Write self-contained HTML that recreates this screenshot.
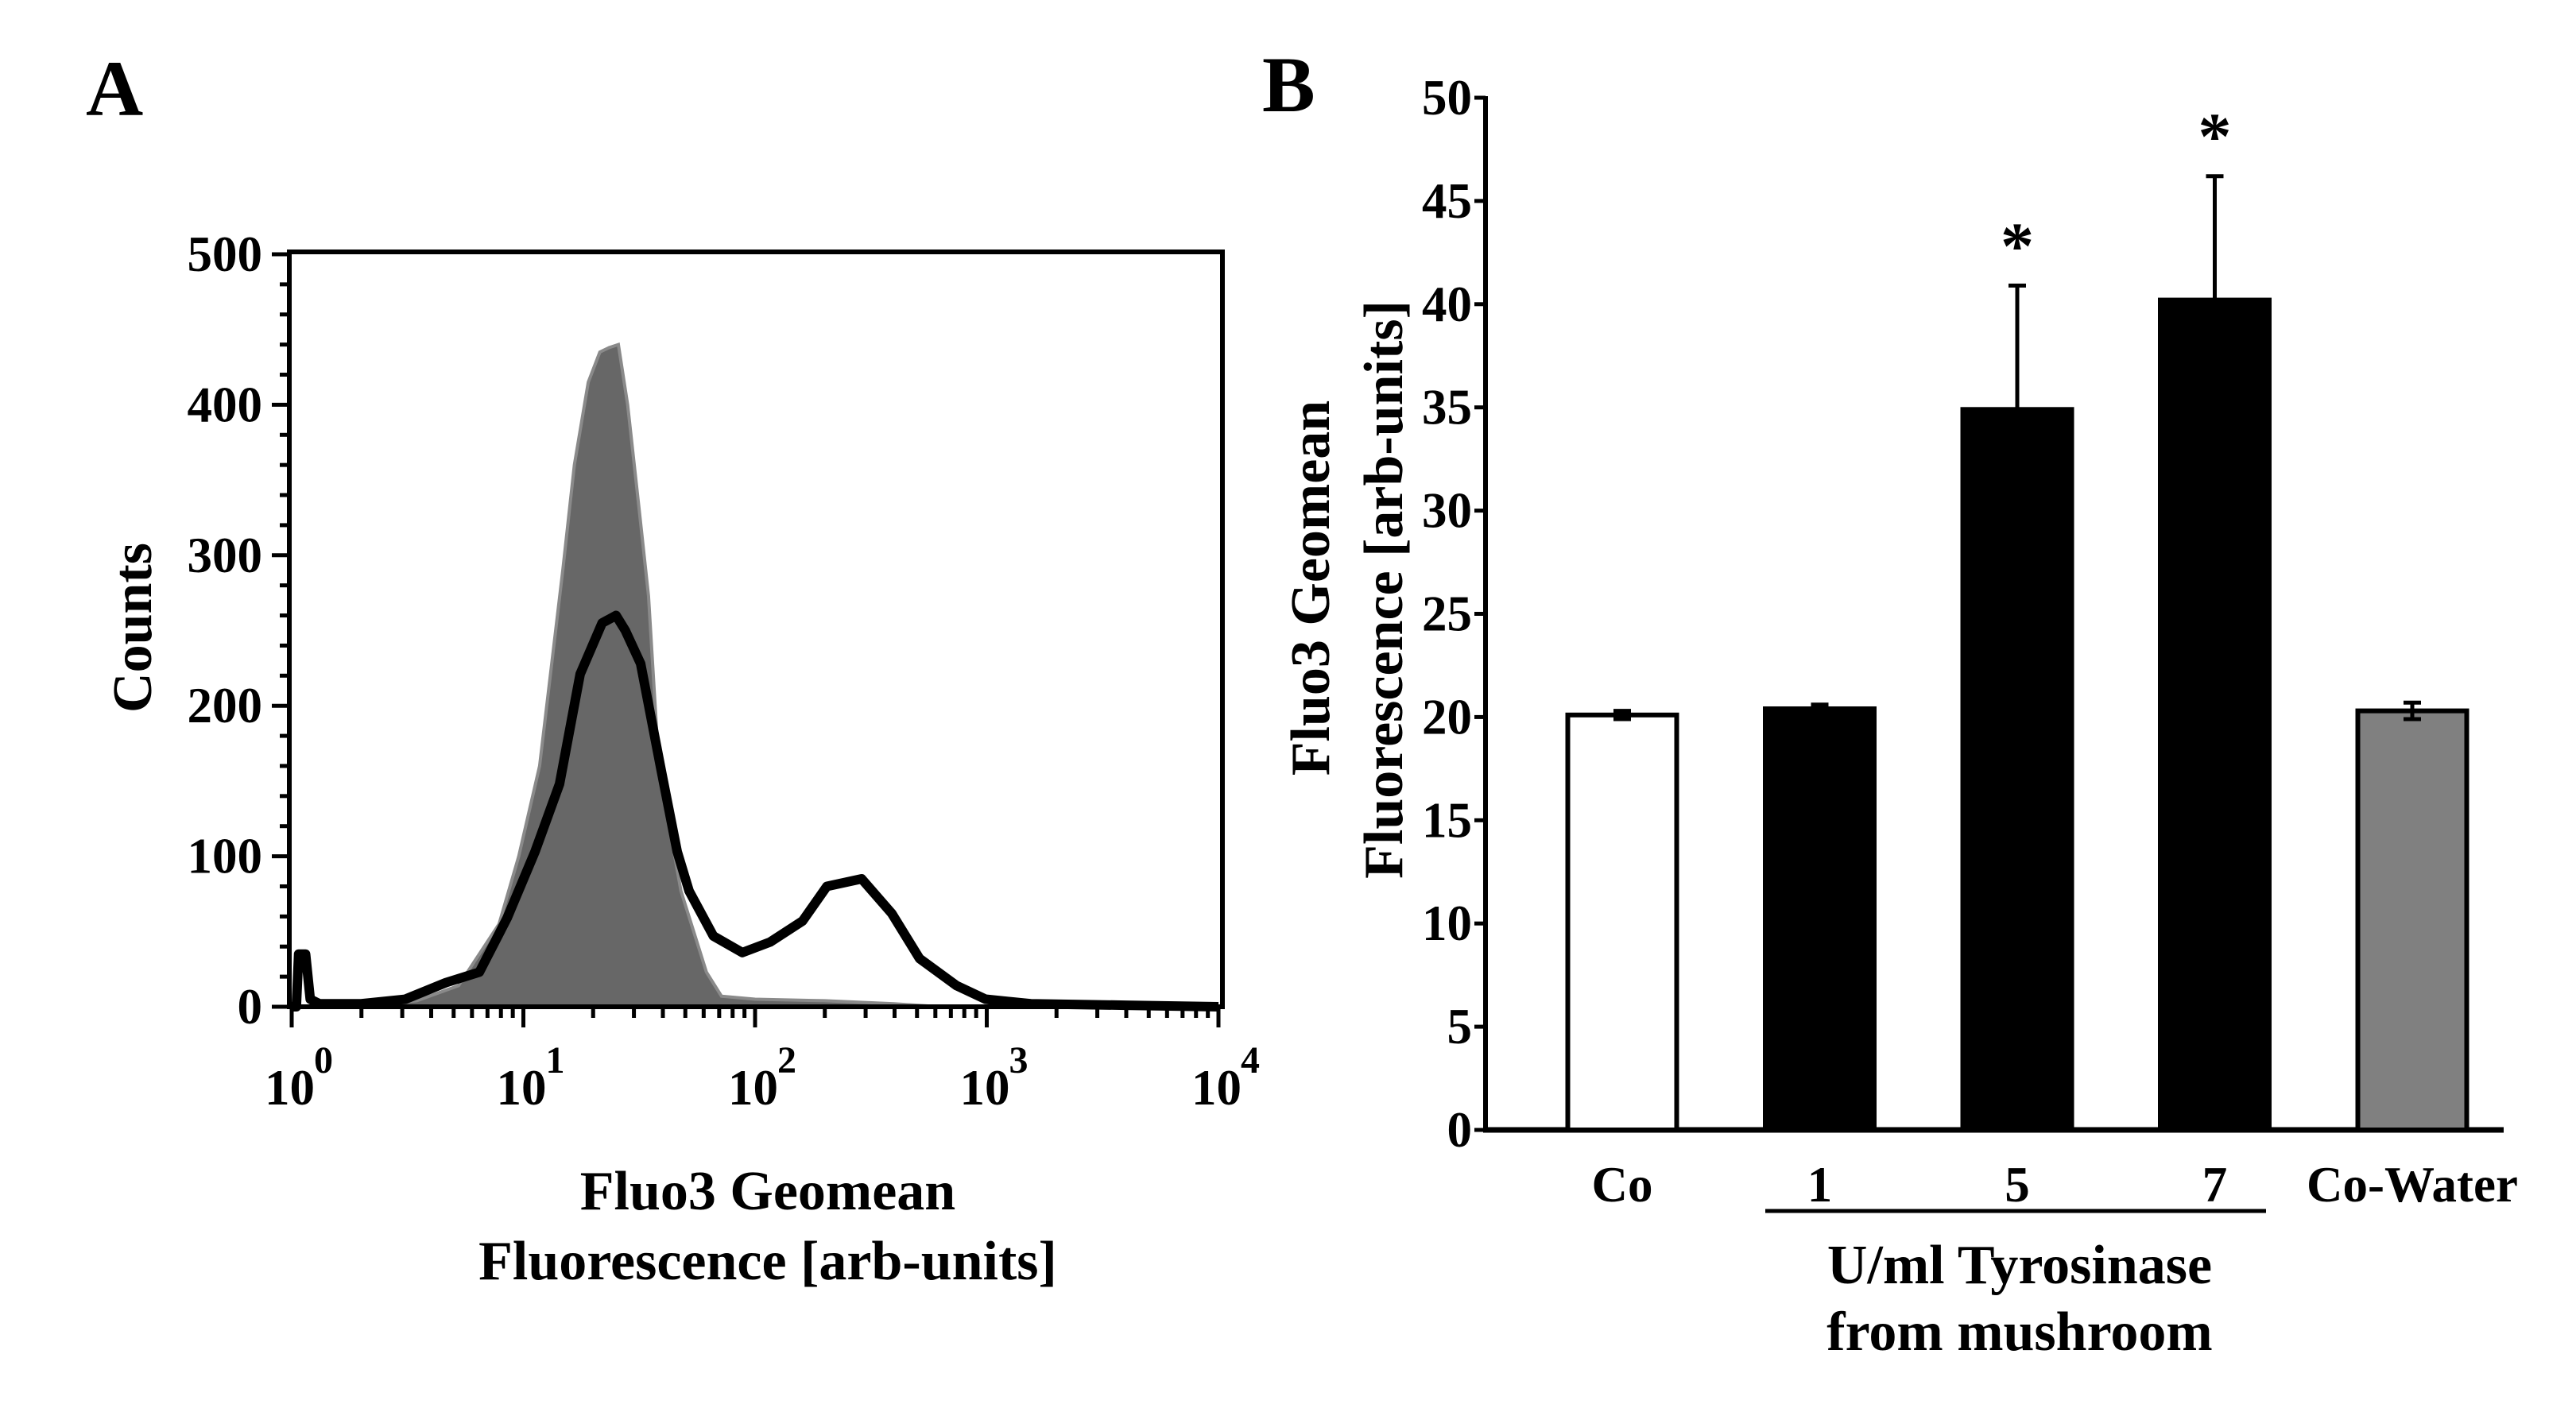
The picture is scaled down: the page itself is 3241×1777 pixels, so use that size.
<!DOCTYPE html>
<html><head><meta charset="utf-8"><style>
html,body{margin:0;padding:0;background:#fff;}
svg{display:block;}
text{font-family:"Liberation Serif",serif;font-weight:bold;fill:#000;}
</style></head><body>
<svg id="fig" width="3241" height="1777" viewBox="0 0 3241 1777" xmlns="http://www.w3.org/2000/svg">
<text x="108" y="145" font-size="100">A</text>
<text x="1588" y="140" font-size="100">B</text>
<g id="pa"></g>
<g id="pb"></g>
</svg>
<script>
// ---- Panel A data ----
const grayLogX = [0.3,0.54,0.72,0.895,0.98,1.07,1.12,1.17,1.22,1.28,1.33,1.37,1.41,1.45,1.5,1.54,1.575,1.63,1.68,1.79,1.855,2.0,2.3,2.6,2.8];
const grayCounts = [0,4,14,55,100,160,225,290,360,415,435,438,440,400,330,273,184,120,77,23,7,5,4,2,0];
const lineLogX = [0.0,0.02,0.03,0.06,0.08,0.12,0.3,0.49,0.665,0.81,0.93,1.05,1.156,1.245,1.34,1.4,1.44,1.506,1.595,1.664,1.715,1.82,1.945,2.065,2.205,2.31,2.46,2.59,2.71,2.87,2.995,3.19,3.6,4.0];
const lineCounts = [0,0,35,35,5,2,2,5,16,23,59,103,148,221,255,260,250,228,157,103,77,47,36,43,57,80,85,62,32,14,5,2,1,0];
const aYTicks = [0,100,200,300,400,500];
const aXDecades = [0,1,2,3,4];
// ---- Panel B data ----
const categories = ["Co","1","5","7","Co-Water"];
const barValues = [20.1,20.4,34.9,40.2,20.3];
const barErrors = [0.2,0.2,6.0,6.0,0.4];
const barFills = ["#fff","#000","#000","#000","#808080"];
const significant = [false,false,true,true,false];
const bYTicks = [0,5,10,15,20,25,30,35,40,45,50];

const NS="http://www.w3.org/2000/svg";
function mk(parent,tag,attrs){const e=document.createElementNS(NS,tag);for(const k in attrs)e.setAttribute(k,attrs[k]);parent.appendChild(e);return e;}

// Panel A
const pa=document.getElementById('pa');
const AL=364,AR=1538,AT=317,AB=1267;
const ax=l=>367+l*291.5;
const ay=c=>AB-c*(AB-320)/500;
let d="M"+ax(grayLogX[0])+","+ay(0);
grayLogX.forEach((l,i)=>{d+=" L"+ax(l)+","+ay(grayCounts[i]);});
d+=" L"+ax(grayLogX[grayLogX.length-1])+","+ay(0)+" Z";
const gp=mk(pa,'path',{d:d,fill:'#676767',stroke:'#8a8a8a','stroke-width':4});


let d2="";
lineLogX.forEach((l,i)=>{d2+=(i?" L":"M")+ax(l)+","+ay(lineCounts[i]);});
const lp=mk(pa,'path',{d:d2,fill:'none',stroke:'#000','stroke-width':12,'stroke-linejoin':'round'});


const box=mk(pa,'rect',{x:AL,y:AT,width:AR-AL,height:AB-AT,fill:'none',stroke:'#000','stroke-width':6});


for(let c=0;c<=500;c+=20){
  const major=c%100===0;
  mk(pa,'line',{x1:AL-(major?22:12),x2:AL,y1:ay(c),y2:ay(c),stroke:'#000','stroke-width':5});
}
aYTicks.forEach(v=>{
  const t=mk(pa,'text',{x:330,y:ay(v)+21,'font-size':63,'text-anchor':'end'});
  t.textContent=v;
  
  
});
for(let dec=0;dec<4;dec++){for(let m=1;m<10;m++){
  const x=ax(dec+Math.log10(m));
  mk(pa,'line',{x1:x,x2:x,y1:AB,y2:AB+(m===1?26:14),stroke:'#000','stroke-width':5});
}}
mk(pa,'line',{x1:ax(4),x2:ax(4),y1:AB,y2:AB+26,stroke:'#000','stroke-width':5});
aXDecades.forEach(p=>{
  const t=mk(pa,'text',{x:ax(p)-34,y:1390,'font-size':63});
  t.textContent="10";
  
  
  const s=mk(pa,'text',{x:ax(p)+28,y:1350,'font-size':48});
  s.textContent=p;
  
  
});
const yt=mk(pa,'text',{x:0,y:0,'font-size':70,'text-anchor':'middle',transform:'translate(190,790) rotate(-90)'});
yt.textContent="Counts";


const xt1=mk(pa,'text',{x:966,y:1522,'font-size':70,'text-anchor':'middle'});
xt1.textContent="Fluo3 Geomean";


const xt2=mk(pa,'text',{x:966,y:1610,'font-size':70,'text-anchor':'middle'});
xt2.textContent="Fluorescence [arb-units]";



// Panel B
const pb=document.getElementById('pb');
const BL=1869,BR=3150,B0=1422,BTop=123;
const by=v=>B0-v*(B0-BTop)/50;
const bx=i=>2041+i*248.5;
const bw=137;
mk(pb,'line',{x1:BL,x2:BL,y1:BTop-2,y2:B0+3,stroke:'#000','stroke-width':6});
mk(pb,'line',{x1:BL-3,x2:BR,y1:B0,y2:B0,stroke:'#000','stroke-width':7});
bYTicks.forEach(v=>{
  mk(pb,'line',{x1:BL-14,x2:BL,y1:by(v),y2:by(v),stroke:'#000','stroke-width':5});
  const t=mk(pb,'text',{x:1852,y:by(v)+21,'font-size':63,'text-anchor':'end'});
  t.textContent=v;
  
  
});
categories.forEach((c,i)=>{
  const cx=bx(i);
  const r=mk(pb,'rect',{x:cx-bw/2,y:by(barValues[i]),width:bw,height:B0-by(barValues[i]),fill:barFills[i],stroke:'#000','stroke-width':6});
  
  
  const top=by(barValues[i]+barErrors[i]);
  const low=barFills[i]==='#000'?by(barValues[i]):by(barValues[i]-barErrors[i]);
  const eb=mk(pb,'path',{d:`M${cx},${low} L${cx},${top} M${cx-11},${top} L${cx+11},${top}`+(barFills[i]==='#000'?'':` M${cx-11},${low} L${cx+11},${low}`),stroke:'#000','stroke-width':5,fill:'none'});
  
  
  if(significant[i]){
    const s=mk(pb,'text',{x:cx,y:top-22,'font-size':84,'text-anchor':'middle'});
    s.textContent="*";
    
    
  }
  const l=mk(pb,'text',{x:cx,y:1512,'font-size':63,'text-anchor':'middle'});
  l.textContent=c;
  
  
});
mk(pb,'line',{x1:2221,x2:2851,y1:1524,y2:1524,stroke:'#000','stroke-width':5});
const g1=mk(pb,'text',{x:2541,y:1615,'font-size':70,'text-anchor':'middle'});
g1.textContent="U/ml Tyrosinase";


const g2=mk(pb,'text',{x:2541,y:1699,'font-size':70,'text-anchor':'middle'});
g2.textContent="from mushroom";


const by1=mk(pb,'text',{x:0,y:0,'font-size':70,'text-anchor':'middle',transform:'translate(1672,740) rotate(-90)'});
by1.textContent="Fluo3 Geomean";


const by2=mk(pb,'text',{x:0,y:0,'font-size':70,'text-anchor':'middle',transform:'translate(1764,742) rotate(-90)'});
by2.textContent="Fluorescence [arb-units]";


</script>
</body></html>
